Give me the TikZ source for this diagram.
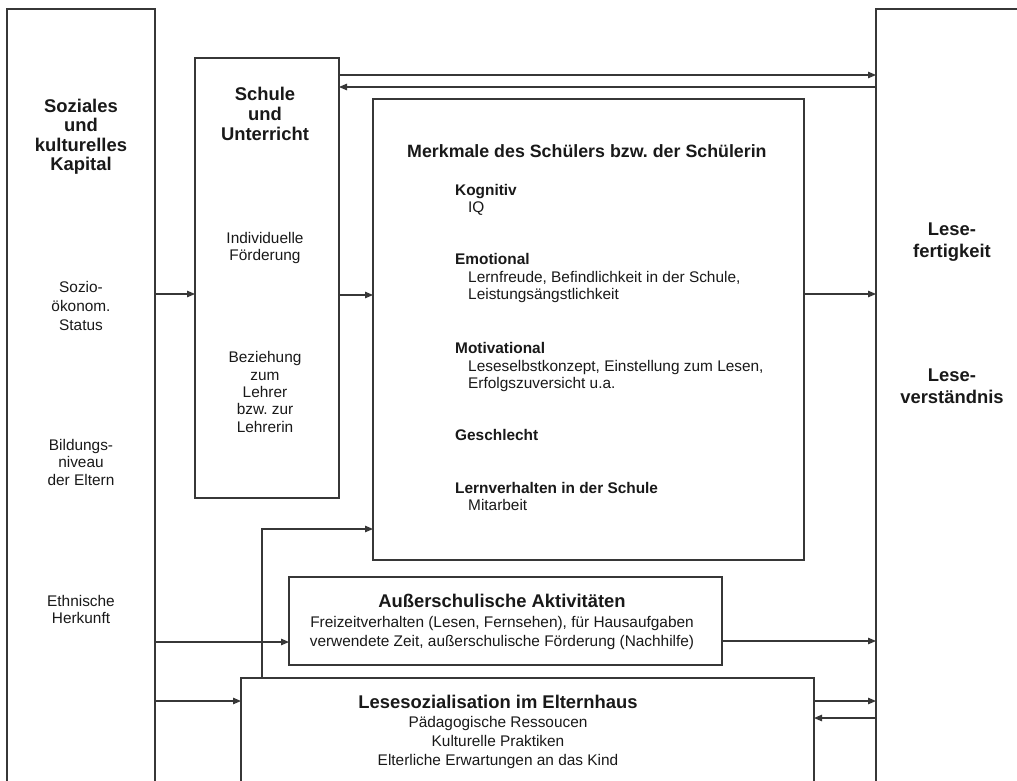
\documentclass[tikz,border=0pt]{standalone}
\usepackage{fontspec}
\setmainfont{Liberation Sans}
\usetikzlibrary{arrows.meta}
\definecolor{linec}{RGB}{55,55,55}
\definecolor{textc}{RGB}{25,25,25}
\tikzset{
  box/.style={draw=linec, line width=1.1pt, inner sep=0pt, outer sep=0pt, anchor=north west},
  arr/.style={draw=linec, line width=1.1pt, -{Triangle[length=8pt,width=6.5pt]}},
  big/.style={font=\bfseries\fontsize{18.4}{19.5}\selectfont, align=center, anchor=base, text=textc, inner sep=0pt},
  sm/.style={font=\fontsize{15.4}{17.4}\selectfont, align=center, anchor=base, text=textc, inner sep=0pt},
  hd/.style={font=\bfseries\fontsize{15.4}{17.4}\selectfont, align=left, anchor=base west, text=textc, inner sep=0pt},
  it/.style={font=\fontsize{15.4}{17.5}\selectfont, align=left, anchor=base west, text=textc, inner sep=0pt},
}
\begin{document}
\frenchspacing
\begin{tikzpicture}[x=1pt,y=-1pt]
\useasboundingbox (0,0) rectangle (1017,780);
\clip (0,0) rectangle (1017,780);
\fill[white] (0,0) rectangle (1017,780);
% boxes
\node[box, minimum width=148pt, minimum height=800pt] (soz) at (7,9) {};
\node[box, minimum width=144pt, minimum height=440pt] (schule) at (195,58) {};
\node[box, minimum width=431pt, minimum height=461pt] (merk) at (373,99) {};
\node[box, minimum width=200pt, minimum height=800pt] (lesef) at (876,9) {};
\node[box, minimum width=433pt, minimum height=88pt] (ausser) at (289,577) {};
\node[box, minimum width=573pt, minimum height=122pt] (eltern) at (241,678) {};
% texts left (anchor base = last line baseline)
\node[big] (t-soz) at (81,170.5) {Soziales\\und\\kulturelles\\Kapital};
\node[sm, font=\fontsize{15.4}{19}\selectfont] (t-sozio) at (81,330) {Sozio-\\ökonom.\\Status};
\node[sm, font=\fontsize{15.4}{17.5}\selectfont] (t-bild) at (81,485) {Bildungs-\\niveau\\der Eltern};
\node[sm, font=\fontsize{15.4}{17}\selectfont] (t-eth) at (81,623) {Ethnische\\Herkunft};
% Schule
\node[big, font=\bfseries\fontsize{18.4}{20}\selectfont] (t-schule) at (265,140) {Schule\\und\\Unterricht};
\node[sm, font=\fontsize{15.4}{17}\selectfont] (t-indiv) at (265,260) {Individuelle\\Förderung};
\node[sm, font=\fontsize{15.4}{17.3}\selectfont] (t-bez) at (265,432) {Beziehung\\zum\\Lehrer\\bzw. zur\\Lehrerin};
% Merkmale
\node[hd, font=\bfseries\fontsize{17.8}{20}\selectfont] (t-merk) at (407,157) {Merkmale des Schülers bzw. der Schülerin};
\node[hd] (h-kog) at (455,195) {Kognitiv};
\node[it] (i-kog) at (468,212) {IQ};
\node[hd] (h-emo) at (455,264) {Emotional};
\node[it] (i-emo) at (468,299.5) {Lernfreude, Befindlichkeit in der Schule,\\Leistungsängstlichkeit};
\node[hd] (h-mot) at (455,353) {Motivational};
\node[it] (i-mot) at (468,388.5) {Leseselbstkonzept, Einstellung zum Lesen,\\Erfolgszuversicht u.a.};
\node[hd] (h-ges) at (455,440) {Geschlecht};
\node[hd] (h-lern) at (455,493) {Lernverhalten in der Schule};
\node[it] (i-lern) at (468,510) {Mitarbeit};
% Ausserschulisch
\node[big] (t-aus) at (502,607) {Außerschulische Aktivitäten};
\node[sm, font=\fontsize{15.4}{19}\selectfont] (i-aus) at (502,646) {Freizeitverhalten (Lesen, Fernsehen), für Hausaufgaben\\verwendete Zeit, außerschulische Förderung (Nachhilfe)};
% Elternhaus
\node[big] (t-elt) at (498,708) {Lesesozialisation im Elternhaus};
\node[sm, font=\fontsize{15.4}{19}\selectfont] (i-elt) at (498,765.7) {Pädagogische Ressoucen\\Kulturelle Praktiken\\Elterliche Erwartungen an das Kind};
% right
\node[big, font=\bfseries\fontsize{18.4}{22}\selectfont] (t-lf) at (952,257) {Lese-\\fertigkeit};
\node[big, font=\bfseries\fontsize{18.4}{22}\selectfont] (t-lv) at (952,403.7) {Lese-\\verständnis};
% connectors
\draw[arr] (schule.east |- 0,75) -- (lesef.west |- 0,75);
\draw[arr] (lesef.west |- 0,87) -- (schule.east |- 0,87);
\draw[arr] (soz.east |- 0,294) -- (schule.west |- 0,294);
\draw[arr] (schule.east |- 0,295) -- (merk.west |- 0,295);
\draw[arr] (merk.east |- 0,294) -- (lesef.west |- 0,294);
\coordinate (bend) at (262,529);
\draw[arr] (bend |- eltern.north) -- (bend) -- (bend -| merk.west);
\draw[arr] (soz.east |- 0,642) -- (ausser.west |- 0,642);
\draw[arr] (ausser.east |- 0,641) -- (lesef.west |- 0,641);
\draw[arr] (soz.east |- 0,701) -- (eltern.west |- 0,701);
\draw[arr] (eltern.east |- 0,701) -- (lesef.west |- 0,701);
\draw[arr] (lesef.west |- 0,718) -- (eltern.east |- 0,718);
\end{tikzpicture}
\end{document}
